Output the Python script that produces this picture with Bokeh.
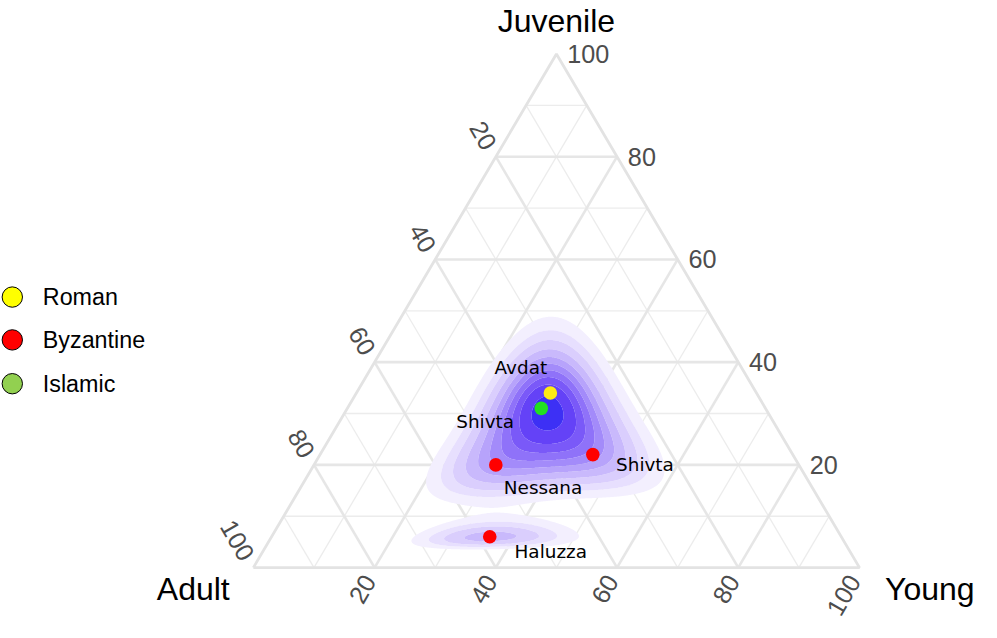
import numpy as np
from bokeh.plotting import figure
from bokeh.models import Range1d
from bokeh.core.properties import value
from bokeh.embed import file_html
from bokeh.resources import INLINE

# ---------------- data ----------------
site_names = ["Avdat", "Shivta", "Nessana", "Shivta", "Haluzza"]
site_periods = ["Roman", "Islamic", "Byzantine", "Byzantine", "Byzantine"]
adult_pct = [34, 37, 50, 33, 58]
young_pct = [32, 32, 30, 45, 36]
juvenile_pct = [34, 31, 20, 22, 6]

legend_periods = ["Roman", "Byzantine", "Islamic"]
tick_values = [20, 40, 60, 80, 100]
major_grid = [20, 40, 60, 80]
minor_grid = [10, 30, 50, 70, 90]
density_levels = [0.25, 0.45, 0.65, 0.88, 1.1, 1.3, 1.5, 1.7, 1.9, 2.14]

# ---------------- styles ----------------
point_colors = {"Roman": "#ffeb14", "Byzantine": "#ff0000", "Islamic": "#22e022"}
legend_colors = {"Roman": "#ffff00", "Byzantine": "#ff0000", "Islamic": "#92d050"}
band_colors = ["#f3effe", "#e7dffe", "#dacefd", "#c9b9fc", "#b7a3fb",
               "#a38bfa", "#8f72f9", "#7a59f8", "#6442f7", "#3d30f5"]
label_nudge_px = [(-30, -26), (-57, 14), (48, 23), (53, 10), (62, 15)]
KDE_SD = 0.27

W, H = 981, 622            # figure size (fits the page with its 8px margin)
REF_W, REF_H = 997, 646    # layout designed in these pixel units
U = 616.0                  # layout pixels per unit triangle side
AX, AY = 257.0, 589.0      # layout position of the Adult corner
SQ3 = np.sqrt(3.0)
FS = 0.97                  # font scale from layout to figure


def cart(a, y, j):
    a = np.asarray(a, float); y = np.asarray(y, float); j = np.asarray(j, float)
    s = a + y + j
    return (y + j / 2.0) / s, (j * SQ3 / 2.0) / s


def lay(rx, ry):
    """layout pixel -> data coordinate"""
    return (rx - AX) / U, (AY - ry) / U


p = figure(width=W, height=H,
           x_range=Range1d(-AX / U, (REF_W - AX) / U),
           y_range=Range1d(-(REF_H - AY) / U, AY / U),
           x_axis_type=None, y_axis_type=None, toolbar_location=None,
           output_backend="svg", min_border=0, outline_line_color=None)
p.background_fill_color = "white"
p.border_fill_color = "white"

# ---------------- grid ----------------
def grid_lines(vals):
    xs, ys = [], []
    for v in vals:
        f = v / 100.0
        for (c1, c2) in [((1 - f, 0, f), (0, 1 - f, f)),
                         ((f, 0, 1 - f), (f, 1 - f, 0)),
                         ((1 - f, f, 0), (0, f, 1 - f))]:
            x1, y1 = cart(*c1); x2, y2 = cart(*c2)
            xs.append([float(x1), float(x2)]); ys.append([float(y1), float(y2)])
    return xs, ys

mx, my = grid_lines(minor_grid)
p.multi_line(mx, my, line_color="#ececec", line_width=1.3)
Mx, My = grid_lines(major_grid)
p.multi_line(Mx, My, line_color="#e6e6e6", line_width=2.6)

# ---------------- density (KDE in ilr space) ----------------
comp = np.array([adult_pct, young_pct, juvenile_pct], float).T / 100.0

def ilr(a, y, j):
    return np.log(y / a) / np.sqrt(2.0), np.sqrt(2.0 / 3.0) * np.log(j / np.sqrt(a * y))

pz1, pz2 = ilr(comp[:, 0], comp[:, 1], comp[:, 2])
gx = np.linspace(0, 1, 601)
gy = np.linspace(0, SQ3 / 2, 521)
GX, GY = np.meshgrid(gx, gy)
Jf = GY / (SQ3 / 2)
Yf = GX - Jf / 2
Af = 1 - Yf - Jf
inside = (Af > 1e-5) & (Yf > 1e-5) & (Jf > 1e-5)
z1, z2 = ilr(np.clip(Af, 1e-5, None), np.clip(Yf, 1e-5, None), np.clip(Jf, 1e-5, None))
Z = np.zeros_like(GX)
for a1, a2 in zip(pz1, pz2):
    Z += np.exp(-((z1 - a1) ** 2 + (z2 - a2) ** 2) / (2 * KDE_SD ** 2))
Z[~inside] = 0.0
top = max(float(Z.max()), density_levels[-1]) + 0.5
lv = [l for l in density_levels if l < top - 0.5] + [top]
p.contour(GX, GY, Z, lv, fill_color=band_colors[:len(lv) - 1], line_color=None)

# border
bx, by = cart([1, 0, 0, 1], [0, 1, 0, 0], [0, 0, 1, 0])
p.line(list(bx), list(by), line_color="#e3e3e3", line_width=2.8)

# ---------------- tick labels ----------------
off = 11.0 / U
tv = np.array(tick_values, float) / 100.0
txt = [str(v) for v in tick_values]
tick_style = dict(text_font=value("Liberation Sans"), text_font_size="%.1fpx" % (26 * FS),
                  text_color="#4d4d4d", text_baseline="middle")
jx, jy = cart(np.zeros_like(tv), 1 - tv, tv)
p.text(jx + off, jy, text=txt, text_align="left", **tick_style)
ax_, ay_ = cart(tv, np.zeros_like(tv), 1 - tv)
p.text(ax_ - 0.5 * off, ay_ + SQ3 / 2 * off, text=txt, angle=-np.pi / 3,
       text_align="right", **tick_style)
yx, yy = cart(1 - tv, tv, np.zeros_like(tv))
p.text(yx - 0.5 * off, yy - SQ3 / 2 * off, text=txt, angle=np.pi / 3,
       text_align="right", **tick_style)

# ---------------- axis titles ----------------
tfont = dict(text_font=value("Liberation Sans"), text_font_size="%.1fpx" % (33 * FS),
             text_color="black", text_baseline="middle")
jt = lay(565, 21)
p.text([jt[0]], [jt[1]], text=["Juvenile"], text_align="center", **tfont)
at = lay(233, 611)
p.text([at[0]], [at[1]], text=["Adult"], text_align="right", **tfont)
yt = lay(899, 611)
p.text([yt[0]], [yt[1]], text=["Young"], text_align="left", **tfont)

# ---------------- points ----------------
px_, py_ = cart(comp[:, 0], comp[:, 1], comp[:, 2])
p.scatter(px_, py_, size=14 * FS, fill_color=[point_colors[s] for s in site_periods],
          line_color=None)
lx = [float(x) + dx / U for x, (dx, dy) in zip(px_, label_nudge_px)]
ly = [float(y) - dy / U for y, (dx, dy) in zip(py_, label_nudge_px)]
p.text(lx, ly, text=site_names, text_align="center", text_baseline="middle",
       text_font=value("DejaVu Sans"), text_font_size="%.1fpx" % (19 * FS), text_color="black")

# ---------------- legend ----------------
leg_y = [308, 352.5, 398]
lgx = [lay(12, ry)[0] for ry in leg_y]
lgy = [lay(12, ry)[1] for ry in leg_y]
p.scatter(lgx, lgy, size=21 * FS, fill_color=[legend_colors[s] for s in legend_periods],
          line_color="black", line_width=1)
ltx = [lay(43, ry)[0] for ry in leg_y]
p.text(ltx, lgy, text=legend_periods, text_align="left", text_baseline="middle",
       text_font=value("Liberation Sans"), text_font_size="%.1fpx" % (24 * FS), text_color="black")

open("out.html", "w").write(file_html(p, INLINE, title="Ternary plot"))
